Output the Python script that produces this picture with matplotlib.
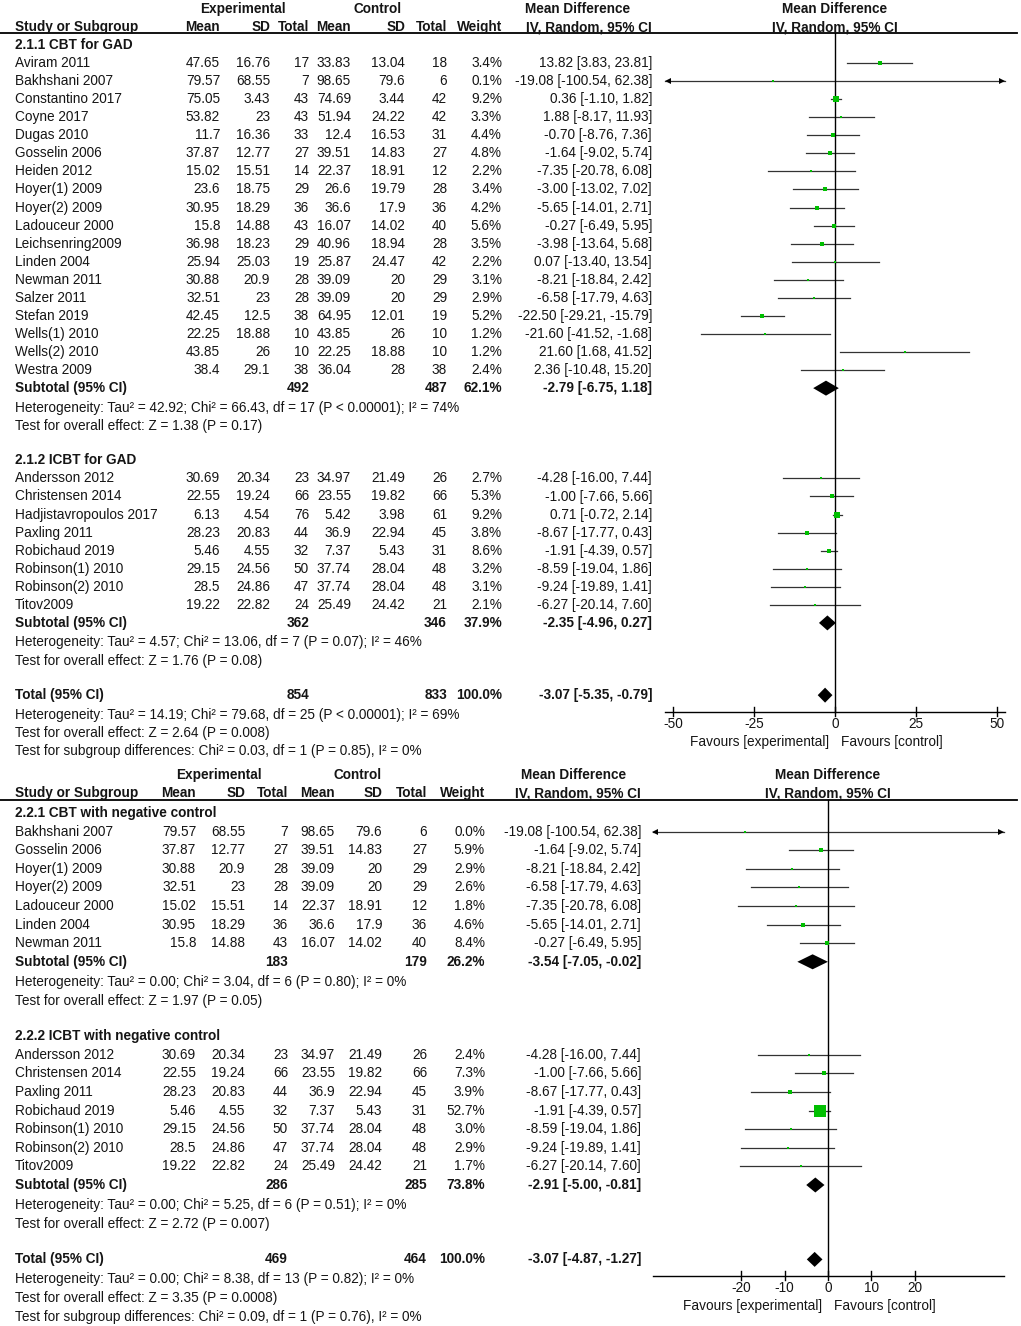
import matplotlib
matplotlib.use("Agg")
import matplotlib.pyplot as plt
from matplotlib.patches import Polygon

plt.rcParams['font.family'] = ['Liberation Sans', 'DejaVu Sans']

# ---------------- data: panel 1 ----------------
# 2.1.1 CBT for GAD
g11_study = ["Aviram 2011", "Bakhshani 2007", "Constantino 2017", "Coyne 2017", "Dugas 2010",
             "Gosselin 2006", "Heiden 2012", "Hoyer(1) 2009", "Hoyer(2) 2009", "Ladouceur 2000",
             "Leichsenring2009", "Linden 2004", "Newman 2011", "Salzer 2011", "Stefan 2019",
             "Wells(1) 2010", "Wells(2) 2010", "Westra 2009"]
g11_e_mean = [47.65, 79.57, 75.05, 53.82, 11.7, 37.87, 15.02, 23.6, 30.95, 15.8, 36.98, 25.94, 30.88, 32.51, 42.45, 22.25, 43.85, 38.4]
g11_e_sd = [16.76, 68.55, 3.43, 23, 16.36, 12.77, 15.51, 18.75, 18.29, 14.88, 18.23, 25.03, 20.9, 23, 12.5, 18.88, 26, 29.1]
g11_e_n = [17, 7, 43, 43, 33, 27, 14, 29, 36, 43, 29, 19, 28, 28, 38, 10, 10, 38]
g11_c_mean = [33.83, 98.65, 74.69, 51.94, 12.4, 39.51, 22.37, 26.6, 36.6, 16.07, 40.96, 25.87, 39.09, 39.09, 64.95, 43.85, 22.25, 36.04]
g11_c_sd = [13.04, 79.6, 3.44, 24.22, 16.53, 14.83, 18.91, 19.79, 17.9, 14.02, 18.94, 24.47, 20, 20, 12.01, 26, 18.88, 28]
g11_c_n = [18, 6, 42, 42, 31, 27, 12, 28, 36, 40, 28, 42, 29, 29, 19, 10, 10, 38]
g11_weight = [3.4, 0.1, 9.2, 3.3, 4.4, 4.8, 2.2, 3.4, 4.2, 5.6, 3.5, 2.2, 3.1, 2.9, 5.2, 1.2, 1.2, 2.4]
g11_md = [13.82, -19.08, 0.36, 1.88, -0.70, -1.64, -7.35, -3.00, -5.65, -0.27, -3.98, 0.07, -8.21, -6.58, -22.50, -21.60, 21.60, 2.36]
g11_lo = [3.83, -100.54, -1.10, -8.17, -8.76, -9.02, -20.78, -13.02, -14.01, -6.49, -13.64, -13.40, -18.84, -17.79, -29.21, -41.52, 1.68, -10.48]
g11_hi = [23.81, 62.38, 1.82, 11.93, 7.36, 5.74, 6.08, 7.02, 2.71, 5.95, 5.68, 13.54, 2.42, 4.63, -15.79, -1.68, 41.52, 15.20]
g11_sub = [492, 487, 62.1, -2.79, -6.75, 1.18]
g11_het = "Heterogeneity: Tau² = 42.92; Chi² = 66.43, df = 17 (P < 0.00001); I² = 74%"
g11_z = "Test for overall effect: Z = 1.38 (P = 0.17)"

# 2.1.2 ICBT for GAD
g12_study = ["Andersson 2012", "Christensen 2014", "Hadjistavropoulos 2017", "Paxling 2011",
             "Robichaud 2019", "Robinson(1) 2010", "Robinson(2) 2010", "Titov2009"]
g12_e_mean = [30.69, 22.55, 6.13, 28.23, 5.46, 29.15, 28.5, 19.22]
g12_e_sd = [20.34, 19.24, 4.54, 20.83, 4.55, 24.56, 24.86, 22.82]
g12_e_n = [23, 66, 76, 44, 32, 50, 47, 24]
g12_c_mean = [34.97, 23.55, 5.42, 36.9, 7.37, 37.74, 37.74, 25.49]
g12_c_sd = [21.49, 19.82, 3.98, 22.94, 5.43, 28.04, 28.04, 24.42]
g12_c_n = [26, 66, 61, 45, 31, 48, 48, 21]
g12_weight = [2.7, 5.3, 9.2, 3.8, 8.6, 3.2, 3.1, 2.1]
g12_md = [-4.28, -1.00, 0.71, -8.67, -1.91, -8.59, -9.24, -6.27]
g12_lo = [-16.00, -7.66, -0.72, -17.77, -4.39, -19.04, -19.89, -20.14]
g12_hi = [7.44, 5.66, 2.14, 0.43, 0.57, 1.86, 1.41, 7.60]
g12_sub = [362, 346, 37.9, -2.35, -4.96, 0.27]
g12_het = "Heterogeneity: Tau² = 4.57; Chi² = 13.06, df = 7 (P = 0.07); I² = 46%"
g12_z = "Test for overall effect: Z = 1.76 (P = 0.08)"

p1_total = [854, 833, 100.0, -3.07, -5.35, -0.79]
p1_notes = ["Heterogeneity: Tau² = 14.19; Chi² = 79.68, df = 25 (P < 0.00001); I² = 69%",
            "Test for overall effect: Z = 2.64 (P = 0.008)",
            "Test for subgroup differences: Chi² = 0.03, df = 1 (P = 0.85), I² = 0%"]
p1_ticks = [-50, -25, 0, 25, 50]

# ---------------- data: panel 2 ----------------
# 2.2.1 CBT with negative control
g21_study = ["Bakhshani 2007", "Gosselin 2006", "Hoyer(1) 2009", "Hoyer(2) 2009",
             "Ladouceur 2000", "Linden 2004", "Newman 2011"]
g21_e_mean = [79.57, 37.87, 30.88, 32.51, 15.02, 30.95, 15.8]
g21_e_sd = [68.55, 12.77, 20.9, 23, 15.51, 18.29, 14.88]
g21_e_n = [7, 27, 28, 28, 14, 36, 43]
g21_c_mean = [98.65, 39.51, 39.09, 39.09, 22.37, 36.6, 16.07]
g21_c_sd = [79.6, 14.83, 20, 20, 18.91, 17.9, 14.02]
g21_c_n = [6, 27, 29, 29, 12, 36, 40]
g21_weight = [0.0, 5.9, 2.9, 2.6, 1.8, 4.6, 8.4]
g21_md = [-19.08, -1.64, -8.21, -6.58, -7.35, -5.65, -0.27]
g21_lo = [-100.54, -9.02, -18.84, -17.79, -20.78, -14.01, -6.49]
g21_hi = [62.38, 5.74, 2.42, 4.63, 6.08, 2.71, 5.95]
g21_sub = [183, 179, 26.2, -3.54, -7.05, -0.02]
g21_het = "Heterogeneity: Tau² = 0.00; Chi² = 3.04, df = 6 (P = 0.80); I² = 0%"
g21_z = "Test for overall effect: Z = 1.97 (P = 0.05)"

# 2.2.2 ICBT with negative control
g22_study = ["Andersson 2012", "Christensen 2014", "Paxling 2011", "Robichaud 2019",
             "Robinson(1) 2010", "Robinson(2) 2010", "Titov2009"]
g22_e_mean = [30.69, 22.55, 28.23, 5.46, 29.15, 28.5, 19.22]
g22_e_sd = [20.34, 19.24, 20.83, 4.55, 24.56, 24.86, 22.82]
g22_e_n = [23, 66, 44, 32, 50, 47, 24]
g22_c_mean = [34.97, 23.55, 36.9, 7.37, 37.74, 37.74, 25.49]
g22_c_sd = [21.49, 19.82, 22.94, 5.43, 28.04, 28.04, 24.42]
g22_c_n = [26, 66, 45, 31, 48, 48, 21]
g22_weight = [2.4, 7.3, 3.9, 52.7, 3.0, 2.9, 1.7]
g22_md = [-4.28, -1.00, -8.67, -1.91, -8.59, -9.24, -6.27]
g22_lo = [-16.00, -7.66, -17.77, -4.39, -19.04, -19.89, -20.14]
g22_hi = [7.44, 5.66, 0.43, 0.57, 1.86, 1.41, 7.60]
g22_sub = [286, 285, 73.8, -2.91, -5.00, -0.81]
g22_het = "Heterogeneity: Tau² = 0.00; Chi² = 5.25, df = 6 (P = 0.51); I² = 0%"
g22_z = "Test for overall effect: Z = 2.72 (P = 0.007)"

p2_total = [469, 464, 100.0, -3.07, -4.87, -1.27]
p2_notes = ["Heterogeneity: Tau² = 0.00; Chi² = 8.38, df = 13 (P = 0.82); I² = 0%",
            "Test for overall effect: Z = 3.35 (P = 0.0008)",
            "Test for subgroup differences: Chi² = 0.09, df = 1 (P = 0.76), I² = 0%"]
p2_ticks = [-20, -10, 0, 10, 20]

TXT = '#151515'
GREEN = '#00bf00'
LINE = '#333333'
FS = 9.8

W, H = 1021, 1326
fig = plt.figure(figsize=(W / 100, H / 100), dpi=100)
ax = fig.add_axes([0, 0, 1, 1])
ax.set_xlim(0, W)
ax.set_ylim(H, 0)
ax.axis('off')


def t(x, y, s, ha='left', bold=False):
    ax.text(x, y, s, ha=ha, va='center', fontsize=FS, color=TXT,
            fontweight='bold' if bold else 'normal')


def fmt_ci(md, lo, hi):
    return "%.2f [%.2f, %.2f]" % (md, lo, hi)


def draw_panel(groups, total, notes, ticks, lay):
    c = lay['cols']
    z0 = lay['zero']
    half_px = lay['half_px']
    lim = lay['lim']
    fx = fig.add_axes([(z0 - half_px) / W, 0, 2 * half_px / W, 1])
    fx.set_xlim(-lim, lim)
    fx.set_ylim(H, 0)
    fx.axis('off')

    # header
    y1, y2, yl = lay['head']
    t(lay['exp_c'], y1, "Experimental", 'center', True)
    t(lay['ctl_c'], y1, "Control", 'center', True)
    t(lay['md_c'], y1, "Mean Difference", 'center', True)
    t(z0, y1, "Mean Difference", 'center', True)
    t(15, y2, "Study or Subgroup", bold=True)
    for key, lab in [('e_mean', 'Mean'), ('e_sd', 'SD'), ('e_n', 'Total'), ('c_mean', 'Mean'),
                     ('c_sd', 'SD'), ('c_n', 'Total'), ('weight', 'Weight'),
                     ('ci', 'IV, Random, 95% CI')]:
        t(c[key], y2, lab, 'right', True)
    t(z0, y2, "IV, Random, 95% CI", 'center', True)
    ax.plot([0, 1017], [yl, yl], color='black', lw=1.3)

    y0, step = lay['row0'], lay['step']
    row = 0

    def ry(r):
        return y0 + r * step

    def diamond(y, md, lo, hi):
        fx.add_patch(Polygon([(lo, y), (md, y - 7.5), (hi, y), (md, y + 7.5)],
                             closed=True, color='black', lw=0))

    for g in groups:
        t(15, ry(row), g['title'], bold=True)
        row += 1
        for i, name in enumerate(g['study']):
            y = ry(row)
            t(15, y, name)
            t(c['e_mean'], y, "%g" % g['e_mean'][i], 'right')
            t(c['e_sd'], y, "%g" % g['e_sd'][i], 'right')
            t(c['e_n'], y, "%d" % g['e_n'][i], 'right')
            t(c['c_mean'], y, "%g" % g['c_mean'][i], 'right')
            t(c['c_sd'], y, "%g" % g['c_sd'][i], 'right')
            t(c['c_n'], y, "%d" % g['c_n'][i], 'right')
            t(c['weight'], y, "%.1f%%" % g['weight'][i], 'right')
            md, lo, hi = g['md'][i], g['lo'][i], g['hi'][i]
            t(c['ci'], y, fmt_ci(md, lo, hi), 'right')
            a, b = max(lo, -lim), min(hi, lim)
            fx.plot([a, b], [y, y], color=LINE, lw=0.9, clip_on=False)
            if lo < -lim:
                fx.plot(-lim + 0.9 * lim / 60, y, marker='<', ms=4.5, color='black',
                        mew=0, clip_on=False)
            if hi > lim:
                fx.plot(lim - 0.9 * lim / 60, y, marker='>', ms=4.5, color='black',
                        mew=0, clip_on=False)
            side = max(2.6, 1.65 * g['weight'][i] ** 0.5)
            fx.plot(md, y, marker='s', ms=side * 0.72, color=GREEN, mew=0, zorder=4)
            row += 1
        s = g['sub']
        y = ry(row)
        t(15, y, "Subtotal (95% CI)", bold=True)
        t(c['e_n'], y, "%d" % s[0], 'right', True)
        t(c['c_n'], y, "%d" % s[1], 'right', True)
        t(c['weight'], y, "%.1f%%" % s[2], 'right', True)
        t(c['ci'], y, fmt_ci(s[3], s[4], s[5]), 'right', True)
        diamond(y, s[3], s[4], s[5])
        row += 1
        t(15, ry(row) + 1.5, g['het'])
        row += 1
        t(15, ry(row) + 1.5, g['z'])
        row += 2

    y = ry(row)
    t(15, y, "Total (95% CI)", bold=True)
    t(c['e_n'], y, "%d" % total[0], 'right', True)
    t(c['c_n'], y, "%d" % total[1], 'right', True)
    t(c['weight'], y, "%.1f%%" % total[2], 'right', True)
    t(c['ci'], y, fmt_ci(total[3], total[4], total[5]), 'right', True)
    diamond(y, total[3], total[4], total[5])
    ya = y + 17
    for k, note in enumerate(notes):
        t(15, ry(row + 1 + k) + 1.5, note)

    # zero line and axis
    fx.plot([0, 0], [yl, ya], color='black', lw=1.0, clip_on=False)
    fx.plot([-lim, lim], [ya, ya], color='black', lw=1.0, clip_on=False)
    for tk in ticks:
        fx.plot([tk, tk], [ya - 5, ya + 4], color='black', lw=1.0, clip_on=False)
        fx.text(tk, ya + 12, "%d" % tk, ha='center', va='center', fontsize=FS, color=TXT)
    t(z0 - 6, ya + 29.5, "Favours [experimental]", 'right')
    t(z0 + 6, ya + 29.5, "Favours [control]", 'left')


def grp(title, p):
    d = dict(title=title)
    for k in ['study', 'e_mean', 'e_sd', 'e_n', 'c_mean', 'c_sd', 'c_n', 'weight', 'md',
              'lo', 'hi', 'sub', 'het', 'z']:
        d[k] = globals()[p + '_' + k]
    return d


layout1 = dict(cols=dict(e_mean=220, e_sd=270, e_n=309, c_mean=351, c_sd=405, c_n=447,
                         weight=502, ci=652),
               exp_c=243, ctl_c=378, md_c=578, zero=835, half_px=170, lim=52.6,
               head=(9, 27, 33), row0=45, step=18.06)
layout2 = dict(cols=dict(e_mean=196, e_sd=245, e_n=288, c_mean=335, c_sd=382, c_n=427,
                         weight=485, ci=641),
               exp_c=219, ctl_c=358, md_c=574, zero=828, half_px=175.5, lim=40.35,
               head=(775, 793, 800), row0=813, step=18.6)

draw_panel([grp("2.1.1 CBT for GAD", 'g11'), grp("2.1.2 ICBT for GAD", 'g12')],
           p1_total, p1_notes, p1_ticks, layout1)
draw_panel([grp("2.2.1 CBT with negative control", 'g21'),
            grp("2.2.2 ICBT with negative control", 'g22')],
           p2_total, p2_notes, p2_ticks, layout2)

fig.savefig("out.png", dpi=100)
